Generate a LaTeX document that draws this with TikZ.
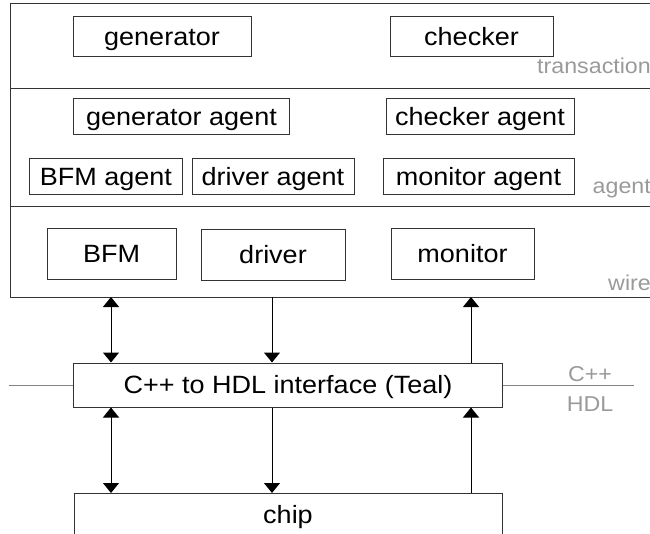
\documentclass[tikz,border=0pt]{standalone}
\usepackage{fontspec}
\setmainfont{Liberation Sans}[FakeStretch=1.08]
\usetikzlibrary{arrows.meta}
\definecolor{linec}{HTML}{333333}
\definecolor{labelc}{HTML}{9A9A9A}
\tikzset{
  box/.style={draw=linec, line width=1bp, minimum height=36bp, inner sep=0pt,
    text height=17bp, text depth=0bp,
    font=\fontsize{25bp}{28bp}\selectfont, text=black},
  layerlabel/.style={text=labelc, inner sep=0pt, anchor=base east,
    font=\fontsize{21.5bp}{24bp}\selectfont},
  conn/.style={draw=black, line width=1bp, arrows={-Triangle[width=16bp,length=10bp]}},
  conn2/.style={draw=black, line width=1bp, arrows={Triangle[width=16bp,length=10bp]-Triangle[width=16bp,length=10bp]}},
  divider/.style={draw=labelc!85!black, line width=1bp}
}
\begin{document}
\begin{tikzpicture}[x=1bp,y=-1bp]
\useasboundingbox (0,0) rectangle (650,534);
\clip (0,0) rectangle (650,534);
% outer testbench box with layers
\draw[linec, line width=1bp] (700,4) -- (10,4) -- (10,297) -- (700,297);
\draw[linec, line width=1bp] (10,89) -- (700,89);
\draw[linec, line width=1bp] (10,207) -- (700,207);
% transaction layer
\node[box, minimum width=178bp, minimum height=40bp] (gen) at (162,37) {generator};
\node[box, minimum width=163bp, minimum height=40bp] (chk) at (471.5,37) {checker};
\node[layerlabel] (ltrans) at (651,74) {transaction};
% agent layer
\node[box, minimum width=215bp] (genag) at (181.5,117) {generator agent};
\node[box, minimum width=188bp] (chkag) at (480,117) {checker agent};
\node[box, minimum width=152bp] (bfmag) at (106,177) {BFM agent};
\node[box, minimum width=162bp] (drvag) at (273,177) {driver agent};
\node[box, minimum width=191bp] (monag) at (478.5,177) {monitor agent};
\node[layerlabel] (lagent) at (651,194) {agent};
% wire layer
\node[box, minimum width=129bp, minimum height=50bp] (bfm) at (111.5,254) {BFM};
\node[box, minimum width=144bp, minimum height=50bp] (drv) at (273,255) {driver};
\node[box, minimum width=143bp, minimum height=50bp] (mon) at (462.5,254) {monitor};
\node[layerlabel] (lwire) at (651,290) {wire};
% coordinates on the bottom of the wire layer
\coordinate (w1) at (111,297);
\coordinate (w2) at (272,297);
\coordinate (w3) at (471,297);
% interface
\node[box, minimum width=428bp, minimum height=44bp] (iface) at (288,385) {C++ to HDL interface (Teal)};
\coordinate (hl) at (9,385);
\coordinate (hr) at (634,385);
\draw[divider] (hl) -- (iface.west);
\draw[divider] (iface.east) -- (hr);
\node[layerlabel, anchor=base] (lcpp) at (590,381) {C++};
\node[layerlabel, anchor=base] (lhdl) at (590,411) {HDL};
% chip (open at the bottom)
\coordinate (chipnw) at (74,493);
\coordinate (chipne) at (502,493);
\draw[linec, line width=1bp] (74,560) -- (chipnw) -- (chipne) -- (502,560);
\node[font=\fontsize{25bp}{28bp}\selectfont, anchor=base, inner sep=0pt] (chip) at (288,523) {chip};
% connectors upper
\draw[conn2] (w1) -- (iface.north -| w1);
\draw[conn] (w2) -- (iface.north -| w2);
\draw[conn] (iface.north -| w3) -- (w3);
% connectors lower
\draw[conn2] (iface.south -| w1) -- (chipnw -| w1);
\draw[conn] (iface.south -| w2) -- (chipnw -| w2);
\draw[conn] (chipnw -| w3) -- (iface.south -| w3);
\end{tikzpicture}
\end{document}
